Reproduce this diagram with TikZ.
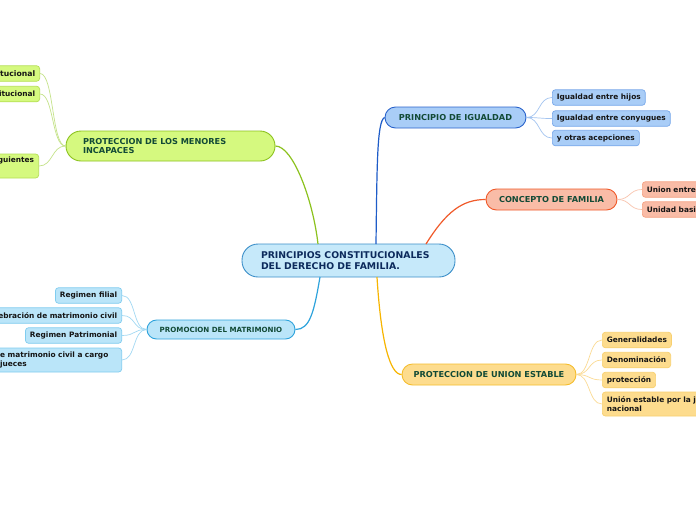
\documentclass[tikz,border=0pt]{standalone}
\usepackage{fontspec}
\setmainfont{DejaVu Sans}
\definecolor{cfill}{HTML}{C6E9FA}\definecolor{cdraw}{HTML}{3C8FC9}\definecolor{ctext}{HTML}{0C2A5C}
\definecolor{gfill}{HTML}{D5F97F}\definecolor{gdraw}{HTML}{8CC21E}\definecolor{gchild}{HTML}{B5DF55}\definecolor{gline}{HTML}{C5E38A}
\definecolor{bfill}{HTML}{A9CDF7}\definecolor{bdraw}{HTML}{2B64CC}\definecolor{bchild}{HTML}{78A8EA}\definecolor{bline}{HTML}{A3C4F0}\definecolor{bmain}{HTML}{1E5CC8}
\definecolor{ofill}{HTML}{F9BCA7}\definecolor{odraw}{HTML}{F05A2A}\definecolor{ochild}{HTML}{F5A284}\definecolor{oline}{HTML}{F9C4AE}
\definecolor{yfill}{HTML}{FDDC8E}\definecolor{ydraw}{HTML}{F5BD2E}\definecolor{ychild}{HTML}{F8D070}\definecolor{yline}{HTML}{FBDB95}\definecolor{ymain}{HTML}{F7B500}
\definecolor{kfill}{HTML}{BAE5F9}\definecolor{kdraw}{HTML}{2EA3DC}\definecolor{kchild}{HTML}{80CCEF}\definecolor{kline}{HTML}{A3D9F3}
\definecolor{ttext}{HTML}{124A36}\definecolor{chtext}{HTML}{151515}
\begin{document}
\begin{tikzpicture}[x=1pt,y=-1pt,
  mainbox/.style={draw, line width=0.9pt, inner sep=0pt, text=ttext, align=center,
     font=\bfseries\fontsize{8.2}{9}\selectfont},
  childbox/.style={draw, line width=0.7pt, rounded corners=3pt, inner xsep=4.5pt, inner ysep=0pt,
     minimum height=15.5pt, text=chtext, font=\bfseries\fontsize{7.4}{9.5}\selectfont},
  mainline/.style={line width=1.2pt},
  childline/.style={line width=0.7pt}]
\useasboundingbox (0,0) rectangle (696,520);
\clip (0,0) rectangle (696,520);
\fill[white] (0,0) rectangle (696,520);

% central node
\node[mainbox, fill=cfill, draw=cdraw, text=ctext, minimum width=213pt, minimum height=33pt,
  rounded corners=16pt, text width=175pt, align=left, font=\bfseries\fontsize{9.3}{11}\selectfont]
  (c) at (348.5,260.5) {PRINCIPIOS CONSTITUCIONALES\\DEL DERECHO DE FAMILIA.};

% main topics
\node[mainbox, fill=gfill, draw=gdraw, minimum width=209pt, minimum height=30pt, rounded corners=15pt,
  text width=175pt, align=left, font=\bfseries\fontsize{8.2}{9}\selectfont] (g) at (170.5,146) {PROTECCION DE LOS MENORES\\INCAPACES};
\node[mainbox, fill=bfill, draw=bdraw, minimum width=141pt, minimum height=21pt, rounded corners=10.5pt]
  (b) at (455.5,117.5) {PRINCIPIO DE IGUALDAD};
\node[mainbox, fill=ofill, draw=odraw, minimum width=131pt, minimum height=21pt, rounded corners=10.5pt]
  (o) at (551.5,199.5) {CONCEPTO DE FAMILIA};
\node[mainbox, fill=yfill, draw=ydraw, minimum width=174pt, minimum height=21pt, rounded corners=10.5pt]
  (y) at (489,374.5) {PROTECCION DE UNION ESTABLE};
\node[mainbox, fill=kfill, draw=kdraw, minimum width=148pt, minimum height=19pt, rounded corners=9.5pt,
  font=\bfseries\fontsize{7.1}{8}\selectfont] (k) at (221,329.5) {PROMOCION DEL MATRIMONIO};

% main connectors
\draw[mainline, draw=gdraw] (g.east) .. controls (293,146) and (313,200) .. (318,244);
\draw[mainline, draw=bmain] (376,244) .. controls (377,165) and (377,121) .. (b.west);
\draw[mainline, draw=odraw] (426,244) .. controls (446,212) and (462,199.5) .. (o.west);
\draw[mainline, draw=ymain] (377,277) .. controls (381,342) and (390,374.5) .. (y.west);
\draw[mainline, draw=kdraw] (320,277) .. controls (314,312) and (310,329.5) .. (k.east);

% blue children
\node[childbox, fill=bfill, draw=bchild, anchor=west] (b1) at (552,97.5) {Igualdad entre hijos};
\node[childbox, fill=bfill, draw=bchild, anchor=west] (b2) at (552,118.5) {Igualdad entre conyugues};
\node[childbox, fill=bfill, draw=bchild, anchor=west] (b3) at (552,138) {y otras acepciones};
\foreach \n in {b1,b2,b3}
  \draw[childline, draw=bline] (b.east) .. controls +(14,0) and +(-14,0) .. (\n.west);

% orange children
\node[childbox, fill=ofill, draw=ochild, anchor=west, text width=62pt, align=left] (o1) at (642,189.5) {Union entre};
\node[childbox, fill=ofill, draw=ochild, anchor=west, text width=62pt, align=left] (o2) at (642,209.5) {Unidad basi};
\foreach \n in {o1,o2}
  \draw[childline, draw=oline] (o.east) .. controls +(13,0) and +(-13,0) .. (\n.west);

% yellow children
\node[childbox, fill=yfill, draw=ychild, anchor=west] (y1) at (602,340) {Generalidades};
\node[childbox, fill=yfill, draw=ychild, anchor=west] (y2) at (602,360) {Denominación};
\node[childbox, fill=yfill, draw=ychild, anchor=west] (y3) at (602,380) {protección};
\node[childbox, fill=yfill, draw=ychild, anchor=west, minimum height=24pt, text width=110pt, align=left]
  (y4) at (602,404) {Unión estable por la j\\nacional};
\foreach \n in {y1,y2,y3,y4}
  \draw[childline, draw=yline] (y.east) .. controls +(14,0) and +(-14,0) .. (\n.west);

% cyan children
\node[childbox, fill=kfill, draw=kchild, anchor=east] (k1) at (122,295.5) {Regimen filial};
\node[childbox, fill=kfill, draw=kchild, anchor=east, text width=130pt, align=right] (k2) at (122,315.5) {ebración de matrimonio civil};
\node[childbox, fill=kfill, draw=kchild, anchor=east] (k3) at (122,335.5) {Regimen Patrimonial};
\node[childbox, fill=kfill, draw=kchild, anchor=east, minimum height=24pt, text width=117pt, align=left]
  (k4) at (122,360) {e matrimonio civil a cargo\\jueces};
\foreach \n in {k1,k2,k3,k4}
  \draw[childline, draw=kline] (k.west) .. controls +(-14,0) and +(14,0) .. (\n.east);

% green children
\node[childbox, fill=gfill, draw=gchild, anchor=east, text width=60pt, align=right,
  font=\bfseries\fontsize{7.7}{10}\selectfont] (g1) at (40,73.5) {tucional};
\node[childbox, fill=gfill, draw=gchild, anchor=east, text width=60pt, align=right] (g2) at (40,94) {itucional};
\node[childbox, fill=gfill, draw=gchild, anchor=east, text width=60pt, align=right, minimum height=24pt]
  (g3) at (39,166) {guientes\\\strut};
\foreach \n in {g1,g2,g3}
  \draw[childline, draw=gline] (g.west) .. controls +(-14,0) and +(14,0) .. (\n.east);
\end{tikzpicture}
\end{document}
